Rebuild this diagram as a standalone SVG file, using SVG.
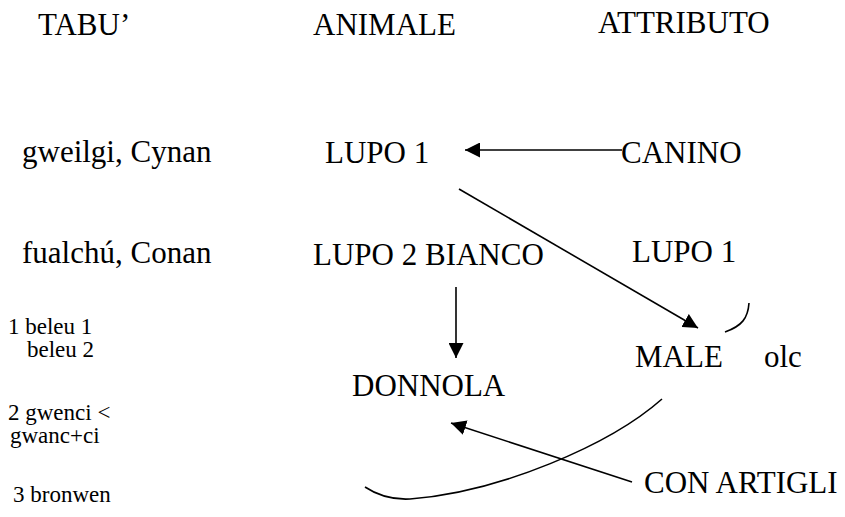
<svg xmlns="http://www.w3.org/2000/svg" width="845" height="517" viewBox="0 0 845 517">
<style>
text{font-family:"Liberation Serif",serif;fill:#000}
.h{font-size:31px}
.n{font-size:31px}
.s{font-size:23px}
.c{fill:none;stroke:#000;stroke-width:1.6}
</style>
<defs>
<marker id="ahl" viewBox="0 0 10 10" refX="10" refY="5" markerWidth="15" markerHeight="15" markerUnits="userSpaceOnUse" orient="auto">
<path d="M0,0 L10,5 L0,10 z" fill="#000"/>
</marker>
</defs>
<rect width="845" height="517" fill="#fff"/>
<g id="headers">
<text class="h" x="38" y="35">TABU’</text>
<text class="h" x="313" y="35">ANIMALE</text>
<text class="h" x="598" y="33">ATTRIBUTO</text>
</g>
<g id="tabu">
<text class="n" x="22" y="162">gweilgi, Cynan</text>
<text class="n" x="22" y="263">fualchú, Conan</text>
<text class="s" x="8" y="334">1 beleu 1</text>
<text class="s" x="27" y="357">beleu 2</text>
<text class="s" x="8" y="420">2 gwenci &lt;</text>
<text class="s" x="10" y="443">gwanc+ci</text>
<text class="s" x="13" y="502">3 bronwen</text>
</g>
<g id="lupo1"><text class="n" x="325" y="163">LUPO 1</text></g>
<g id="lupo2"><text class="n" x="313" y="265">LUPO 2 BIANCO</text></g>
<g id="donnola"><text class="n" x="352" y="396">DONNOLA</text></g>
<g id="canino"><text class="n" x="621" y="163">CANINO</text></g>
<g id="lupo1b"><text class="n" x="632" y="262">LUPO 1</text></g>
<g id="male"><text class="n" x="635" y="367">MALE</text></g>
<g id="olc"><text class="n" x="764" y="367">olc</text></g>
<g id="conartigli"><text class="n" x="644" y="493">CON ARTIGLI</text></g>
<g id="connectors">
<line class="c" x1="622" y1="150" x2="465" y2="150" marker-end="url(#ahl)"/>
<line class="c" x1="459" y1="189" x2="698" y2="328" marker-end="url(#ahl)"/>
<line class="c" x1="456" y1="287" x2="456" y2="358" marker-end="url(#ahl)"/>
<line class="c" x1="632" y1="482" x2="451" y2="423" marker-end="url(#ahl)"/>
<path class="c" d="M749,303 C748,318 742,326 725,332"/>
<path class="c" d="M662,399 C610,445 500,492 410,499 C390,500 377,495 365,487"/>
</g>
</svg>
